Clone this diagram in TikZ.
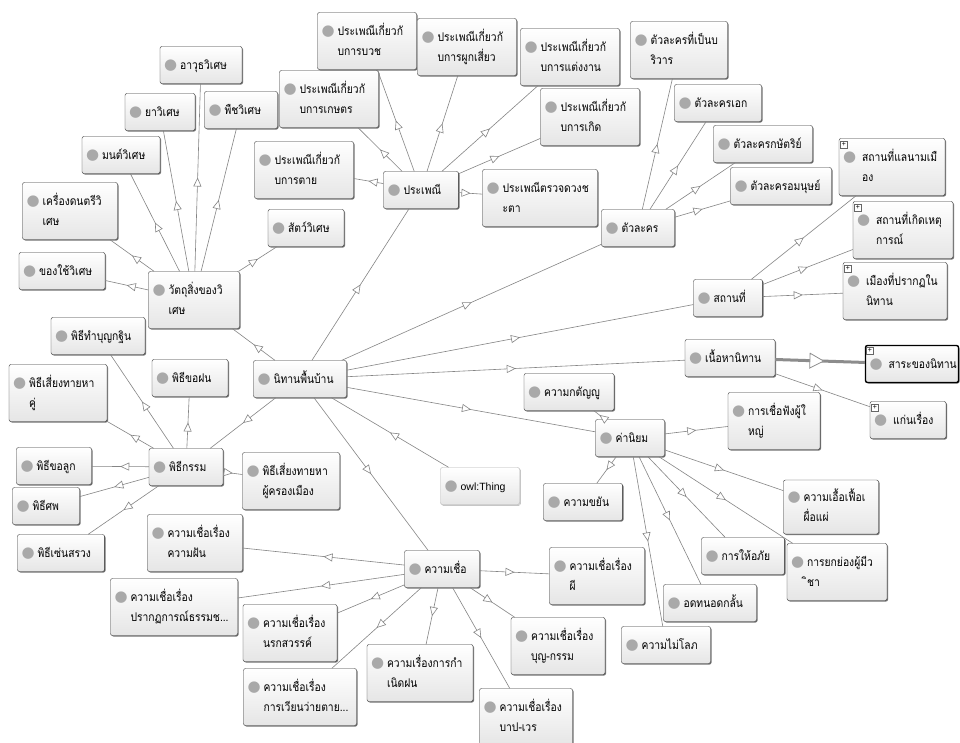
\documentclass[tikz,border=0pt]{standalone}
\usepackage{fontspec}
\newfontfamily\thaifont[Script=Thai,FakeStretch=0.86]{Loma}
\newfontfamily\symfont{DejaVu Sans}
\newfontfamily\latinfont{Liberation Sans}
\usetikzlibrary{arrows.meta,decorations.markings,shadows}

\definecolor{dotgray}{HTML}{A9A9A9}
\definecolor{edgegray}{HTML}{858585}

% grey dot in front of each class name
\newcommand{\lbl}[1]{\mbox{{\symfont\fontsize{15}{15}\selectfont\textcolor{dotgray}{●}}\hspace{3pt}%
  \begin{tabular}[t]{@{}l@{}}#1\end{tabular}}}

\begin{document}
\begin{tikzpicture}[x=1pt,y=-1pt]
      % Define styles for nodes
      \tikzstyle{cls} = [draw=black!80, rectangle, rounded corners=2pt,
      top color=white, bottom color=black!10,
      drop shadow={shadow xshift=1pt, shadow yshift=-1pt, fill=black!55, opacity=1},
      inner xsep=4pt, inner ysep=3pt, align=left, minimum height=37pt,
      font=\thaifont\fontsize{12}{20}\selectfont]
      \tikzstyle{cls2} = [cls, minimum height=57pt]
      \tikzstyle{thingbox} = [cls, draw=black!30,
      drop shadow={shadow xshift=1pt, shadow yshift=-1pt, fill=black!15, opacity=1},
      font=\latinfont\fontsize{10.5}{20}\selectfont]
      \tikzstyle{plus} = [draw=black!60, fill=white, rectangle, inner sep=0pt,
      minimum size=7pt, font=\latinfont\fontsize{7}{7}\selectfont]
      \tikzstyle{isa} = [draw=edgegray, line width=0.6pt, postaction={decorate},
      decoration={markings, mark=at position 0.5 with
      {\arrow{Triangle[fill=white, length=9pt, width=8pt, line width=0.6pt]}}}]
      \tikzstyle{isabold} = [draw=black!45, line width=3pt, postaction={decorate},
      decoration={markings, mark=at position 0.55 with
      {\arrow{Triangle[fill=white, length=15pt, width=16pt, line width=0.8pt]}}}]

      % Background and size
      \fill[white] (0,0) rectangle (960,742);
      \useasboundingbox (0,0) rectangle (960,742);

      % Root
      \node[thingbox, text width=71pt] (thing) at (480,486) {\lbl{owl:Thing}};
      \node[cls, text width=85pt] (nithan) at (300,379) {\lbl{นิทานพื้นบ้าน}};

      % Magic objects
      \node[cls2, text width=83pt] (watthu) at (194,300) {\lbl{วัตถุสิ่งของวิ\\เศษ}};
      \node[cls, text width=74pt] (awut) at (201,65) {\lbl{อาวุธวิเศษ}};
      \node[cls, text width=62pt] (ya) at (160,112) {\lbl{ยาวิเศษ}};
      \node[cls, text width=65pt] (phuet) at (241,110) {\lbl{พืชวิเศษ}};
      \node[cls, text width=70pt] (mon) at (121,155) {\lbl{มนต์วิเศษ}};
      \node[cls2, text width=87pt] (dontri) at (70,211) {\lbl{เครื่องดนตรีวิ\\เศษ}};
      \node[cls, text width=78pt] (khongchai) at (62,271) {\lbl{ของใช้วิเศษ}};
      \node[cls, text width=68pt] (sat) at (306,228) {\lbl{สัตว์วิเศษ}};

      % Traditions
      \node[cls, text width=67pt] (prapheni) at (421,190) {\lbl{ประเพณี}};
      \node[cls2, text width=91pt] (buat) at (367,41) {\lbl{ประเพณีเกี่ยวกั\\บการบวช}};
      \node[cls2, text width=91pt] (siao) at (467,47) {\lbl{ประเพณีเกี่ยวกั\\บการผูกเสี่ยว}};
      \node[cls2, text width=91pt] (taengngan) at (570,57) {\lbl{ประเพณีเกี่ยวกั\\บการแต่งงาน}};
      \node[cls2, text width=91pt] (kaset) at (329,99) {\lbl{ประเพณีเกี่ยวกั\\บการเกษตร}};
      \node[cls2, text width=91pt] (koet) at (590,117) {\lbl{ประเพณีเกี่ยวกั\\บการเกิด}};
      \node[cls2, text width=91pt] (tai) at (304,170) {\lbl{ประเพณีเกี่ยวกั\\บการตาย}};
      \node[cls2, text width=107pt] (duang) at (540,198) {\lbl{ประเพณีตรวจดวงช\\ะตา}};

      % Characters
      \node[cls, text width=65pt] (tualakhon) at (638,228) {\lbl{ตัวละคร}};
      \node[cls2, text width=89pt] (boriwan) at (679,50) {\lbl{ตัวละครที่เป็นบ\\ริวาร}};
      \node[cls, text width=79pt] (ek) at (718,103) {\lbl{ตัวละครเอก}};
      \node[cls, text width=91pt] (kasat) at (763,144) {\lbl{ตัวละครกษัตริย์}};
      \node[cls, text width=93pt] (amanut) at (781,186) {\lbl{ตัวละครอมนุษย์}};

      % Places
      \node[cls, text width=61pt] (sathanthi) at (728,298) {\lbl{สถานที่}};
      \node[cls2, text width=98pt] (namueang) at (892,167) {\lbl{\hspace{3pt}สถานที่แลนามเมื\\\hspace{3pt}อง}};
      \node[cls2, text width=92pt] (hetkan) at (903,230) {\lbl{\hspace{3pt}สถานที่เกิดเหตุ\\\hspace{3pt}การณ์}};
      \node[cls2, text width=96pt] (mueang) at (895,291) {\lbl{\hspace{3pt}เมืองที่ปรากฏใน\\\hspace{3pt}นิทาน}};

      % Content
      \node[cls, text width=82pt] (nuea) at (730,358) {\lbl{เนื้อหานิทาน}};
      \node[cls, text width=85pt, line width=1.4pt, draw=black] (sara) at (912,364) {\lbl{\hspace{3pt}สาระของนิทาน}};
      \node[cls, text width=68pt] (kaen) at (908,420) {\lbl{\hspace{3pt}แก่นเรื่อง}};

      % Values
      \node[cls, text width=61pt] (khaniyom) at (630,438) {\lbl{ค่านิยม}};
      \node[cls, text width=82pt] (katanyu) at (569,392) {\lbl{ความกตัญญู}};
      \node[cls2, text width=84pt] (chueafang) at (774,421) {\lbl{การเชื่อฟังผู้ใ\\หญ่}};
      \node[cls, text width=71pt] (khayan) at (583,502) {\lbl{ความขยัน}};
      \node[cls2, text width=87pt, minimum height=54pt] (ueafuea) at (831,507) {\lbl{ความเอื้อเฟื้อเ\\ผื่อแผ่}};
      \node[cls, text width=75pt] (aphai) at (743,556) {\lbl{การให้อภัย}};
      \node[cls2, text width=92pt] (yokyong) at (837,572) {\lbl{การยกย่องผู้มีว\\ิชา}};
      \node[cls, text width=85pt] (otthon) at (710,603) {\lbl{อดทนอดกลั้น}};
      \node[cls, text width=81pt] (mailop) at (666,645) {\lbl{ความไม่โลภ}};

      % Rites
      \node[cls, text width=66pt] (phithi) at (186,467) {\lbl{พิธีกรรม}};
      \node[cls, text width=86pt] (kathin) at (98,336) {\lbl{พิธีทำบุญกฐิน}};
      \node[cls, text width=68pt] (khofon) at (190,378) {\lbl{พิธีขอฝน}};
      \node[cls2, text width=90pt] (hakhu) at (58,393) {\lbl{พิธีเสี่ยงทายหา\\คู่}};
      \node[cls, text width=67pt] (kholuk) at (54,466) {\lbl{พิธีขอลูก}};
      \node[cls, text width=59pt] (sop) at (46,506) {\lbl{พิธีศพ}};
      \node[cls, text width=79pt] (sensuang) at (61,553) {\lbl{พิธีเซ่นสรวง}};
      \node[cls2, text width=89pt] (khrongmueang) at (291,481) {\lbl{พิธีเสี่ยงทายหา\\ผู้ครองเมือง}};

      % Beliefs
      \node[cls, text width=67pt] (khwamchuea) at (442,569) {\lbl{ความเชื่อ}};
      \node[cls2, text width=87pt] (fan) at (195,543) {\lbl{ความเชื่อเรื่อง\\ความฝัน}};
      \node[cls2, text width=119pt] (thammachat) at (174,607) {\lbl{ความเชื่อเรื่อง\\ปรากฏการณ์ธรรมช...}};
      \node[cls2, text width=86pt] (narok) at (290,633) {\lbl{ความเชื่อเรื่อง\\นรกสวรรค์}};
      \node[cls2, text width=105pt] (wianwai) at (300,697) {\lbl{ความเชื่อเรื่อง\\การเวียนว่ายตาย...}};
      \node[cls2, text width=98pt] (kamnoet) at (420,673) {\lbl{ความเรื่องการกำ\\เนิดฝน}};
      \node[cls2, text width=87pt] (phi) at (597,576) {\lbl{ความเชื่อเรื่อง\\ผี}};
      \node[cls2, text width=86pt] (bunkam) at (558,646) {\lbl{ความเชื่อเรื่อง\\บุญ-กรรม}};
      \node[cls2, text width=85pt] (bapwen) at (526,717) {\lbl{ความเชื่อเรื่อง\\บาป-เวร}};

      % Expand markers
      \node[plus] (namueangp) at ([xshift=5pt,yshift=-6pt]namueang.north west) {+};
      \node[plus] (hetkanp) at ([xshift=5pt,yshift=-6pt]hetkan.north west) {+};
      \node[plus] (mueangp) at ([xshift=5pt,yshift=-6pt]mueang.north west) {+};
      \node[plus] (sarap) at ([xshift=5pt,yshift=-6pt]sara.north west) {+};
      \node[plus] (kaenp) at ([xshift=5pt,yshift=-6pt]kaen.north west) {+};

      % Connections
      \draw[isa] (thing) -- (nithan);
      \foreach \c in {watthu,prapheni,tualakhon,sathanthi,nuea,khaniyom,phithi,khwamchuea}
        \draw[isa] (nithan) -- (\c);
      \foreach \c in {awut,ya,phuet,mon,dontri,khongchai,sat}
        \draw[isa] (watthu) -- (\c);
      \foreach \c in {buat,siao,taengngan,kaset,koet,tai,duang}
        \draw[isa] (prapheni) -- (\c);
      \foreach \c in {boriwan,ek,kasat,amanut}
        \draw[isa] (tualakhon) -- (\c);
      \foreach \c in {namueang,hetkan,mueang}
        \draw[isa] (sathanthi) -- (\c);
      \draw[isabold] (nuea) -- (sara);
      \draw[isa] (nuea) -- (kaen);
      \foreach \c in {katanyu,chueafang,khayan,ueafuea,aphai,yokyong,otthon,mailop}
        \draw[isa] (khaniyom) -- (\c);
      \foreach \c in {kathin,khofon,hakhu,kholuk,sop,sensuang,khrongmueang}
        \draw[isa] (phithi) -- (\c);
      \foreach \c in {fan,thammachat,narok,wianwai,kamnoet,phi,bunkam,bapwen}
        \draw[isa] (khwamchuea) -- (\c);

\end{tikzpicture}
\end{document}
